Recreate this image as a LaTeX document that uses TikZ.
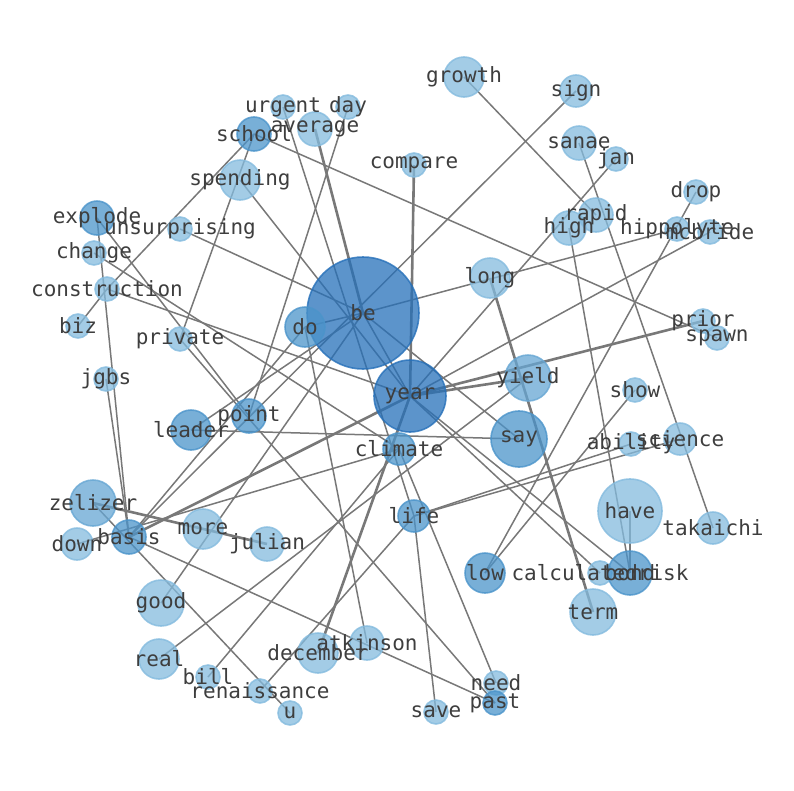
\documentclass[tikz,border=0pt]{standalone}
\usepackage{fontspec}
\newfontfamily\labfont{DejaVu Sans Mono}
\pgfdeclarelayer{edges}
\pgfsetlayers{edges,main}
\definecolor{cdark}{RGB}{38,112,185}
\definecolor{cmed}{RGB}{75,148,202}
\definecolor{cml}{RGB}{102,166,211}
\definecolor{clight}{RGB}{132,187,222}
\definecolor{labcol}{RGB}{62,62,62}
\definecolor{edgecol}{RGB}{120,120,120}
\tikzset{
  gn/.style={circle, inner sep=0pt, fill=#1, fill opacity=0.75, draw=#1, draw opacity=0.8, line width=1.6pt},
  gl/.style={inner sep=0pt, text=labcol, font=\labfont\fontsize{21}{25}\selectfont},
  ge/.style={draw=edgecol, line width=1.5pt},
  gt/.style={draw=edgecol, line width=2.6pt},
}
\newcommand\gnode[6]{%
  \node[gn=#5, minimum size=#4*2pt] (#1) at (#2,#3) {};
}
\newcommand\glab[2]{\node[gl] (#1-t) at (#1.center) {#2};}
\begin{document}
\begin{tikzpicture}[x=1pt,y=-1pt]
\useasboundingbox (0,0) rectangle (794,790);
% nodes
\gnode{be}{363}{313}{56}{cdark}{}
\gnode{year}{410}{396}{36}{cdark}{}
\gnode{do}{305}{327}{20}{cmed}{}
\gnode{say}{519}{439}{28}{cmed}{}
\gnode{yield}{528}{378}{23}{cml}{}
\gnode{have}{630}{511}{32}{clight}{}
\gnode{climate}{399}{449}{16}{cmed}{}
\gnode{point}{249}{416}{17}{cmed}{}
\gnode{leader}{191}{430}{20}{cmed}{}
\gnode{zelizer}{93}{503}{23}{cml}{}
\gnode{basis}{129}{537}{17}{cmed}{}
\gnode{more}{203}{529}{20}{clight}{}
\gnode{julian}{267}{544}{17}{clight}{}
\gnode{down}{77}{544}{16}{clight}{}
\gnode{good}{161}{603}{23}{clight}{}
\gnode{real}{159}{659}{20}{clight}{}
\gnode{bill}{208}{677}{12}{clight}{}
\gnode{renaissance}{260}{691}{12}{clight}{}
\gnode{u}{290}{713}{12}{clight}{}
\gnode{december}{318}{653}{20}{clight}{}
\gnode{atkinson}{367}{643}{17}{clight}{}
\gnode{life}{414}{516}{16}{cmed}{}
\gnode{save}{436}{712}{12}{clight}{}
\gnode{need}{496}{683}{12}{clight}{}
\gnode{past}{495}{703}{12}{cmed}{}
\gnode{low}{485}{573}{20}{cmed}{}
\gnode{calc}{600}{573}{12}{clight}{}
\gnode{bond}{630}{573}{22}{cmed}{}
\gnode{term}{593}{612}{23}{clight}{}
\gnode{takaichi}{713}{528}{16}{clight}{}
\gnode{science}{680}{439}{16}{clight}{}
\gnode{ability}{631}{444}{12}{clight}{}
\gnode{show}{635}{390}{12}{clight}{}
\gnode{prior}{703}{321}{12}{clight}{}
\gnode{spawn}{717}{338}{12}{clight}{}
\gnode{hippolyte}{677}{229}{12}{clight}{}
\gnode{mcbride}{710}{232}{12}{clight}{}
\gnode{drop}{696}{192}{12}{clight}{}
\gnode{rapid}{596}{215}{17}{clight}{}
\gnode{high}{569}{228}{17}{clight}{}
\gnode{jan}{616}{159}{12}{clight}{}
\gnode{sanae}{579}{143}{17}{clight}{}
\gnode{sign}{576}{91}{16}{clight}{}
\gnode{growth}{464}{77}{20}{clight}{}
\gnode{compare}{414}{165}{12}{clight}{}
\gnode{long}{490}{278}{20}{clight}{}
\gnode{day}{348}{107}{12}{clight}{}
\gnode{urgent}{283}{107}{12}{clight}{}
\gnode{average}{315}{129}{17}{clight}{}
\gnode{school}{254}{134}{17}{cmed}{}
\gnode{spending}{240}{180}{20}{clight}{}
\gnode{unsurprising}{180}{229}{12}{clight}{}
\gnode{explode}{97}{218}{17}{cmed}{}
\gnode{change}{94}{253}{12}{clight}{}
\gnode{construction}{107}{289}{12}{clight}{}
\gnode{biz}{78}{326}{12}{clight}{}
\gnode{private}{180}{339}{12}{clight}{}
\gnode{jgbs}{106}{379}{12}{clight}{}
% labels
\glab{be}{be}\glab{year}{year}\glab{do}{do}\glab{say}{say}\glab{yield}{yield}
\glab{have}{have}\glab{climate}{climate}\glab{point}{point}\glab{leader}{leader}
\glab{zelizer}{zelizer}\glab{basis}{basis}\glab{more}{more}\glab{julian}{julian}
\glab{down}{down}\glab{good}{good}\glab{real}{real}\glab{bill}{bill}
\glab{renaissance}{renaissance}\glab{u}{u}\glab{december}{december}
\glab{atkinson}{atkinson}\glab{life}{life}\glab{save}{save}\glab{need}{need}
\glab{past}{past}\glab{low}{low}\glab{calc}{calculatedrisk}\glab{bond}{bond}
\glab{term}{term}\glab{takaichi}{takaichi}\glab{science}{science}
\glab{ability}{ability}\glab{show}{show}\glab{prior}{prior}\glab{spawn}{spawn}
\glab{hippolyte}{hippolyte}\glab{mcbride}{mcbride}\glab{drop}{drop}
\glab{rapid}{rapid}\glab{high}{high}\glab{jan}{jan}\glab{sanae}{sanae}
\glab{sign}{sign}\glab{growth}{growth}\glab{compare}{compare}\glab{long}{long}
\glab{day}{day}\glab{urgent}{urgent}\glab{average}{average}\glab{school}{school}
\glab{spending}{spending}\glab{unsurprising}{unsurprising}\glab{explode}{explode}
\glab{change}{change}\glab{construction}{construction}\glab{biz}{biz}
\glab{private}{private}\glab{jgbs}{jgbs}
% edges
\begin{pgfonlayer}{edges}
\foreach \a/\b in {be/year,be/do,be/say,be/unsurprising,be/hippolyte,be/leader,be/good,
  year/spending,year/jan,year/mcbride,year/calc,year/bond,year/construction,
  school/construction,school/private,school/spawn,private/past,sign/basis,growth/rapid,
  high/bond,sanae/takaichi,drop/low,show/low,have/bond,life/ability,life/science,
  life/save,life/renaissance,climate/need,climate/bill,change/climate,explode/basis,
  explode/point,jgbs/basis,biz/construction,do/atkinson,do/basis,basis/past,zelizer/u,
  real/yield,leader/say,day/point,urgent/life,down/climate}
  \draw[ge] (\a.center) -- (\b.center);
\foreach \a/\b in {be/average,year/compare,year/prior,year/yield,year/basis,year/december,long/term,zelizer/julian}
  \draw[gt] (\a.center) -- (\b.center);
\end{pgfonlayer}
\end{tikzpicture}
\end{document}
